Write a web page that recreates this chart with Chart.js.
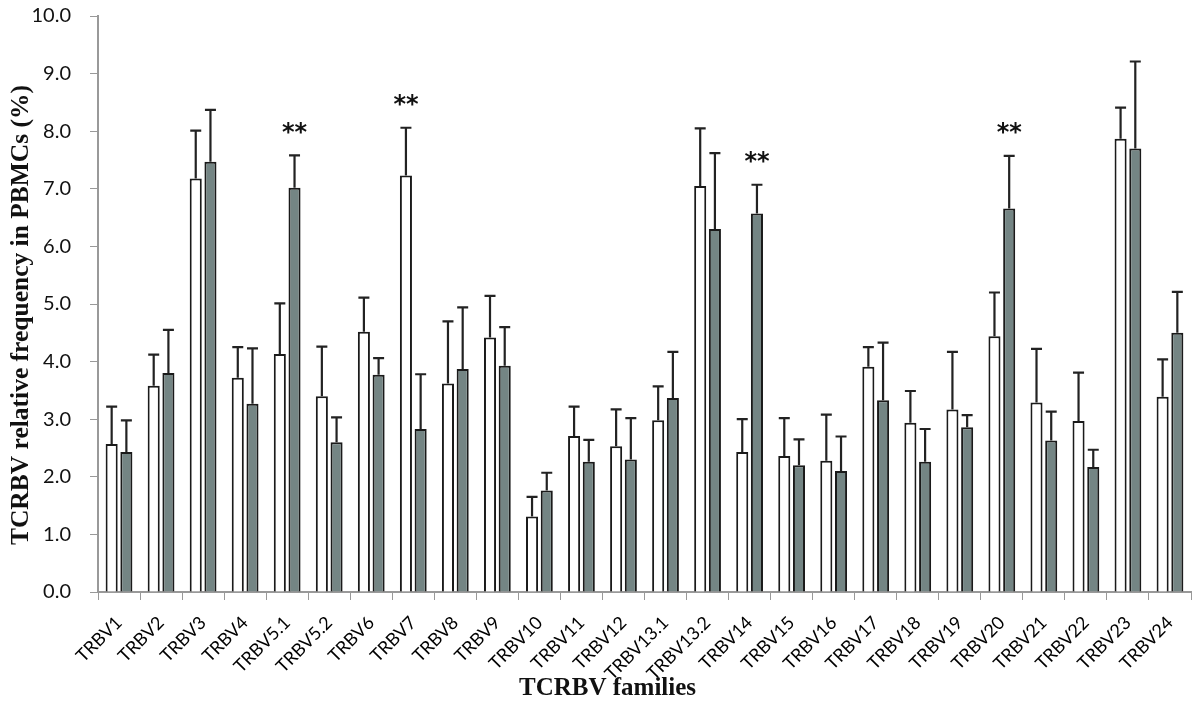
<!DOCTYPE html>
<html>
<head>
<meta charset="utf-8">
<script src="https://cdn.jsdelivr.net/npm/chart.js@4.4.1/dist/chart.umd.min.js"></script>
<style>
  html, body { margin: 0; padding: 0; background: #fff; }
  #wrap { width: 1200px; height: 711px; position: relative; }
</style>
</head>
<body>
<div id="wrap"><canvas id="tcrChart"></canvas></div>
<script>
// Familias TCRBV
const familias = ["TRBV1", "TRBV2", "TRBV3", "TRBV4", "TRBV5.1", "TRBV5.2", "TRBV6", "TRBV7", "TRBV8", "TRBV9",
  "TRBV10", "TRBV11", "TRBV12", "TRBV13.1", "TRBV13.2", "TRBV14", "TRBV15", "TRBV16", "TRBV17", "TRBV18",
  "TRBV19", "TRBV20", "TRBV21", "TRBV22", "TRBV23", "TRBV24"];

// Barras blancas
const grupoA = [2.57, 3.58, 7.18, 3.72, 4.13, 3.40, 4.52, 7.23, 3.62, 4.42,
  1.31, 2.71, 2.53, 2.98, 7.05, 2.43, 2.36, 2.28, 3.91, 2.94,
  3.17, 4.44, 3.29, 2.97, 7.87, 3.39];
const errorA = [0.65, 0.54, 0.83, 0.53, 0.88, 0.86, 0.59, 0.83, 1.08, 0.72,
  0.34, 0.51, 0.64, 0.59, 1.00, 0.57, 0.66, 0.80, 0.34, 0.55,
  1.00, 0.76, 0.93, 0.84, 0.54, 0.65];

// Barras grises
const grupoB = [2.43, 3.80, 7.47, 3.27, 7.02, 2.60, 3.77, 2.83, 3.87, 3.93,
  1.76, 2.26, 2.30, 3.37, 6.30, 6.57, 2.20, 2.10, 3.33, 2.26,
  2.86, 6.66, 2.63, 2.17, 7.70, 4.50];
const errorB = [0.55, 0.75, 0.90, 0.96, 0.56, 0.43, 0.29, 0.95, 1.07, 0.67,
  0.31, 0.38, 0.72, 0.80, 1.32, 0.50, 0.45, 0.60, 1.00, 0.57,
  0.21, 0.91, 0.50, 0.30, 1.51, 0.71];

// Marcas de significancia
const signifA = ["", "", "", "", "", "", "", "**", "", "", "", "", "", "", "", "", "", "", "", "", "", "", "", "", "", ""];
const signifB = ["", "", "", "", "**", "", "", "", "", "", "", "", "", "", "", "**", "", "", "", "", "", "**", "", "", "", ""];

const ticksY = [0, 1, 2, 3, 4, 5, 6, 7, 8, 9, 10];

const tituloX = "TCRBV families";
const tituloY = "TCRBV relative frequency in PBMCs (%)";

const errores = [errorA, errorB];
const signos = [signifA, signifB];

// Plugin para barras de error y asteriscos
const errorBarsPlugin = {
  id: "errorBars",
  afterDatasetsDraw(chart) {
    const c = chart.ctx;
    const y = chart.scales.y;
    chart.data.datasets.forEach((ds, di) => {
      const meta = chart.getDatasetMeta(di);
      meta.data.forEach((bar, i) => {
        const top = y.getPixelForValue(ds.data[i] + errores[di][i]);
        const base = y.getPixelForValue(ds.data[i]);
        c.save();
        c.strokeStyle = "#222";
        c.lineWidth = 2.2;
        c.beginPath();
        c.moveTo(bar.x, base);
        c.lineTo(bar.x, top);
        c.moveTo(bar.x - 5.5, top);
        c.lineTo(bar.x + 5.5, top);
        c.stroke();
        if (signos[di][i]) {
          c.fillStyle = "#111";
          c.font = "bold 24px 'DejaVu Sans'";
          c.textAlign = "center";
          c.textBaseline = "middle";
          c.fillText(signos[di][i], bar.x, top - 22);
        }
        c.restore();
      });
    });
  }
};

// Titulos de ejes (posicion como en Excel)
const titlesPlugin = {
  id: "axisTitles",
  afterDraw(chart) {
    const c = chart.ctx;
    const area = chart.chartArea;
    c.save();
    c.fillStyle = "#111";
    c.font = "bold 25px 'Liberation Serif'";
    c.textAlign = "center";
    c.textBaseline = "middle";
    c.fillText(tituloX, (area.left + area.right) / 2 - 37, 689);
    c.translate(21, (area.top + area.bottom) / 2 + 11);
    c.rotate(-Math.PI / 2);
    c.font = "bold 25.5px 'Liberation Serif'";
    c.fillText(tituloY, 0, 0);
    c.restore();
  }
};

const ctx = document.getElementById("tcrChart").getContext("2d");

const tcrChart = new Chart(ctx, {
  type: "bar",
  data: {
    labels: familias,
    datasets: [{
      label: "Grupo A",
      data: grupoA,
      backgroundColor: "#ffffff",
      borderColor: "#1a1a1a",
      borderWidth: 2,
      categoryPercentage: 0.70,
      barPercentage: 0.82
    }, {
      label: "Grupo B",
      data: grupoB,
      backgroundColor: "#748584",
      borderColor: "#1a1a1a",
      borderWidth: 2,
      categoryPercentage: 0.70,
      barPercentage: 0.82
    }]
  },
  options: {
    responsive: true,
    maintainAspectRatio: false,
    animation: false,
    layout: { padding: { top: 16, right: 9, left: 0, bottom: 0 } },
    plugins: {
      legend: { display: false },
      tooltip: { enabled: false }
    },
    scales: {
      x: {
        grid: {
          display: true,
          drawOnChartArea: false,
          offset: true,
          tickLength: 8,
          color: "#999"
        },
        border: { color: "#999", width: 2 },
        ticks: {
          autoSkip: false,
          minRotation: 45,
          maxRotation: 45,
          padding: 12,
          color: "#000",
          font: { family: "Lato", size: 18 }
        },
        afterFit(scale) { scale.height = 119; }
      },
      y: {
        min: 0,
        max: 10,
        afterBuildTicks(scale) {
          scale.ticks = ticksY.map(v => ({ value: v }));
        },
        grid: {
          display: true,
          drawOnChartArea: false,
          tickLength: 8,
          color: "#999"
        },
        border: { color: "#999", width: 2 },
        ticks: {
          padding: 19,
          color: "#111",
          font: { family: "Lato", size: 20 },
          callback: v => Number(v).toFixed(1)
        },
        afterFit(scale) {
          scale.width = 98;
          scale.paddingTop = 12;
          scale.paddingBottom = 12;
        }
      }
    }
  },
  plugins: [errorBarsPlugin, titlesPlugin]
});
</script>
</body>
</html>
